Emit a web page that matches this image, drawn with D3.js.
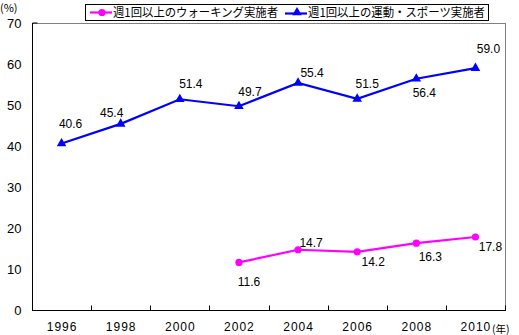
<!DOCTYPE html>
<html><head><meta charset="utf-8">
<script src="https://cdn.jsdelivr.net/npm/d3@7"></script>
<style>
html,body{margin:0;padding:0;background:#fff;}
svg{display:block;}
text{font-family:"Liberation Sans",Arial,sans-serif;fill:#000;}
.jp{font-family:"Noto Sans CJK JP",sans-serif;}
</style></head><body>
<svg id="c" width="519" height="335"></svg>
<script>
const years = ["1996","1998","2000","2002","2004","2006","2008","2010"];
const sportsValues = [40.6, 45.4, 51.4, 49.7, 55.4, 51.5, 56.4, 59.0];
const walkingYears = ["2002","2004","2006","2008","2010"];
const walkingValues = [11.6, 14.7, 14.2, 16.3, 17.8];
const yTicks = [0,10,20,30,40,50,60,70];
const seriesNames = ["週1回以上のウォーキング実施者","週1回以上の運動・スポーツ実施者"];
const yUnit = "(%)";
const xUnit = "(年)";

// label placement (layout, offsets from point in px)
const sportsLabelOffsets = [[9,-20],[-9,-11],[11,-15],[11,-14],[14,-10],[10,-15],[8,14],[13,-19]];
const walkingLabelOffsets = [[10,19],[13,-7],[16,10],[14,14],[15,10]];

const svg = d3.select("#c");
const L=32, R=505, T=23, B=310;
const x = d3.scaleBand().domain(years).range([L,R]);
const y = d3.scaleLinear().domain([0,70]).range([B,T]);
const cx = d => x(d) + x.bandwidth()/2;

// frame: top and right gray
svg.append("line").attr("x1",L).attr("x2",R).attr("y1",T+0.5).attr("y2",T+0.5).attr("stroke","#808080");
svg.append("line").attr("x1",R+0.5).attr("x2",R+0.5).attr("y1",T).attr("y2",B).attr("stroke","#808080");

// y axis
const yAxis = d3.axisLeft(y).tickValues(yTicks).tickSize(0).tickPadding(11);
const ya = svg.append("g").attr("transform",`translate(${L+0.5},0)`).call(yAxis);
ya.select(".domain").attr("stroke","#000").attr("d",`M5,${T}H0V${B}`);
ya.selectAll("text").style("font-size","13px").style("font-family","Liberation Sans, Arial, sans-serif").attr("dy","0.35em");

// x axis
const xa = svg.append("g").attr("transform",`translate(0,${B+0.5})`);
xa.append("line").attr("x1",L).attr("x2",R+1).attr("stroke","#000");
const bounds = years.map(d=>x(d)).concat([R]);
xa.selectAll("line.tk").data(bounds).join("line").attr("class","tk")
  .attr("x1",d=>Math.round(d)+0.5).attr("x2",d=>Math.round(d)+0.5).attr("y1",0).attr("y2",-5).attr("stroke","#000");
xa.selectAll("text.yr").data(years).join("text").attr("class","yr")
  .attr("x",d=>cx(d)+0.5).attr("y",20).attr("text-anchor","middle")
  .style("font-size","12px").style("letter-spacing","1px").text(d=>d);

// units
svg.append("text").attr("class","jp").attr("x",0).attr("y",12).style("font-size","11px").text(yUnit);
svg.append("text").attr("class","jp").attr("x",492).attr("y",333).style("font-size","10.5px").text(xUnit);

const line = d3.line().x(d=>cx(d[0])).y(d=>y(d[1]));
const tri = d3.symbol().type(d3.symbolTriangle).size(40);

// sports series
const sp = years.map((d,i)=>[d,sportsValues[i]]);
svg.append("path").attr("d",line(sp)).attr("fill","none").attr("stroke","#0000FF").attr("stroke-width",2.2);
svg.selectAll("path.tri").data(sp).join("path").attr("class","tri")
  .attr("d",tri).attr("transform",d=>`translate(${cx(d[0])},${y(d[1])})`).attr("fill","#0000FF");
svg.selectAll("text.sl").data(sp).join("text").attr("class","sl")
  .attr("x",(d,i)=>cx(d[0])+sportsLabelOffsets[i][0]).attr("y",(d,i)=>y(d[1])+sportsLabelOffsets[i][1])
  .attr("dy","0.35em").attr("text-anchor","middle").style("font-size","12px").text(d=>d[1].toFixed(1));

// walking series
const wk = walkingYears.map((d,i)=>[d,walkingValues[i]]);
svg.append("path").attr("d",line(wk)).attr("fill","none").attr("stroke","#FF00FF").attr("stroke-width",2.2);
svg.selectAll("circle.wk").data(wk).join("circle").attr("class","wk")
  .attr("cx",d=>cx(d[0])).attr("cy",d=>y(d[1])).attr("r",3.6).attr("fill","#FF00FF");
svg.selectAll("text.wl").data(wk).join("text").attr("class","wl")
  .attr("x",(d,i)=>cx(d[0])+walkingLabelOffsets[i][0]).attr("y",(d,i)=>y(d[1])+walkingLabelOffsets[i][1])
  .attr("dy","0.35em").attr("text-anchor","middle").style("font-size","12px").text(d=>d[1].toFixed(1));

// legend
const lg = svg.append("g");
lg.append("rect").attr("x",85.5).attr("y",4.5).attr("width",403).attr("height",16).attr("fill","#fff").attr("stroke","#000");
lg.append("line").attr("x1",90).attr("x2",112).attr("y1",12.5).attr("y2",12.5).attr("stroke","#FF00FF").attr("stroke-width",2.2);
lg.append("circle").attr("cx",102).attr("cy",12.5).attr("r",3.6).attr("fill","#FF00FF");
lg.append("text").attr("class","jp").attr("x",113).attr("y",12.5).attr("dy","0.36em")
  .attr("textLength",165).attr("lengthAdjust","spacingAndGlyphs").style("font-size","12px").text(seriesNames[0]);
lg.append("line").attr("x1",285).attr("x2",307).attr("y1",13.5).attr("y2",13.5).attr("stroke","#0000FF").attr("stroke-width",2.2);
lg.append("path").attr("d",tri).attr("transform","translate(297,12.5)").attr("fill","#0000FF");
lg.append("text").attr("class","jp").attr("x",308).attr("y",12.5).attr("dy","0.36em")
  .attr("textLength",177).attr("lengthAdjust","spacingAndGlyphs").style("font-size","12px").text(seriesNames[1]);
</script></body></html>
